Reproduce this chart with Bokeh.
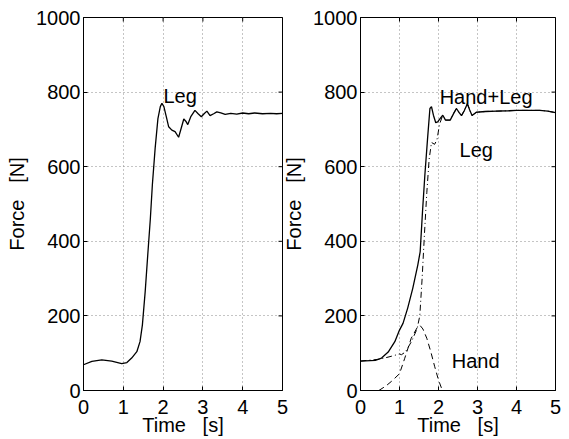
import math
from bokeh.plotting import figure
from bokeh.layouts import row
from bokeh.models import Range1d, FixedTicker, Label
from bokeh.embed import file_html
from bokeh.resources import INLINE

# ---- data ----
x_ticks = [0, 1, 2, 3, 4, 5]
y_ticks = [0, 200, 400, 600, 800, 1000]

# Left panel: Leg only
t_leg = [0.0, 0.21, 0.46, 0.71, 0.96, 1.09, 1.21, 1.34, 1.42, 1.48, 1.55, 1.62, 1.68, 1.73,
         1.80, 1.87, 1.93, 1.97, 2.02, 2.08, 2.14, 2.22, 2.30, 2.39, 2.46, 2.52, 2.57, 2.62,
         2.70, 2.80, 2.88, 2.96, 3.03, 3.10, 3.18, 3.27, 3.35, 3.45, 3.56, 3.70, 3.85, 4.00,
         4.15, 4.30, 4.50, 4.70, 4.85, 5.0]
f_leg = [69, 78, 82, 79, 72, 75, 87, 104, 131, 176, 265, 372, 461, 551,
         649, 729, 761, 770, 761, 734, 707, 698, 694, 679, 705, 728, 722, 713,
         735, 751, 742, 734, 742, 749, 737, 742, 747, 744, 740, 743, 741, 744,
         742, 744, 742, 743, 742, 743]

# Right panel: Hand+Leg (total)
t_tot = [0.0, 0.38, 0.54, 0.71, 0.88, 1.0, 1.09, 1.21, 1.34, 1.47, 1.53, 1.59, 1.65, 1.72,
         1.78, 1.82, 1.87, 1.93, 1.98, 2.04, 2.11, 2.18, 2.30, 2.40, 2.46, 2.53, 2.59, 2.66,
         2.74, 2.80, 2.86, 2.97, 3.2, 3.5, 3.8, 4.0, 4.32, 4.6, 4.8, 5.0]
f_tot = [79, 81, 87, 103, 131, 162, 180, 221, 274, 337, 372, 480, 577, 676,
         756, 761, 738, 718, 720, 729, 738, 725, 725, 745, 756, 745, 737, 750,
         769, 752, 737, 746, 748, 749, 750, 751, 751, 751, 749, 745]

# Right panel: Hand
t_hand = [0.47, 0.65, 0.8, 1.0, 1.13, 1.3, 1.45, 1.53, 1.6, 1.7, 1.8, 1.9, 2.0, 2.1, 3.0, 4.0, 5.0]
f_hand = [0, 12, 25, 45, 85, 140, 168, 174, 165, 140, 105, 65, 28, 0, 0, 0, 0]

# Right panel: Leg
t_legr = [0.0, 0.5, 0.8, 1.0, 1.05, 1.15, 1.3, 1.45, 1.52, 1.58, 1.64, 1.70, 1.76, 1.82,
          1.90, 1.96, 2.03, 2.11, 2.18, 2.30, 2.40, 2.46, 2.53, 2.59, 2.66, 2.74, 2.80,
          2.86, 2.97, 3.2, 3.5, 3.8, 4.0, 4.32, 4.6, 4.8, 5.0]
f_legr = [79, 84, 92, 98, 96, 103, 130, 165, 200, 300, 420, 530, 620, 665,
          660, 672, 715, 738, 725, 725, 745, 756, 745, 737, 750, 769, 752,
          737, 746, 748, 749, 750, 751, 751, 751, 749, 745]

FONT = "Liberation Sans"
FS = "20px"
NB = "\u00a0"


def make_fig(left_border, right_border, ylab_standoff):
    p = figure(width=left_border + 199 + right_border, height=17 + 373 + 49,
               x_range=Range1d(0, 5), y_range=Range1d(0, 1000),
               output_backend="svg", toolbar_location=None,
               min_border_left=left_border, min_border_right=right_border,
               min_border_top=17, min_border_bottom=49)
    p.outline_line_color = "black"
    p.outline_line_alpha = 1
    p.outline_line_width = 1
    p.background_fill_color = "white"
    p.border_fill_alpha = 0
    for ax in p.xaxis + p.yaxis:
        ax.major_label_text_font = FONT
        ax.major_label_text_font_size = FS
        ax.major_label_text_color = "black"
        ax.axis_label_text_font = FONT
        ax.axis_label_text_font_size = FS
        ax.axis_label_text_font_style = "normal"
        ax.axis_label_text_color = "black"
        ax.major_tick_in = 4
        ax.major_tick_out = 0
        ax.minor_tick_line_color = None
        ax.axis_line_color = "black"
        ax.major_tick_line_color = "black"
    p.xaxis.ticker = FixedTicker(ticks=x_ticks)
    p.yaxis.ticker = FixedTicker(ticks=y_ticks)
    p.xaxis.axis_label = "Time" + NB * 3 + "[s]"
    p.yaxis.axis_label = "Force" + NB * 3 + "[N]"
    p.xaxis.major_label_standoff = 9
    p.xaxis.axis_label_standoff = -3
    p.yaxis.major_label_standoff = 3
    p.yaxis.axis_label_standoff = ylab_standoff
    for g in p.xgrid + p.ygrid:
        g.grid_line_color = "#8a8a8a"
        g.grid_line_dash = "1 3"
        g.grid_line_width = 1
    p.xgrid.ticker = FixedTicker(ticks=x_ticks)
    p.ygrid.ticker = FixedTicker(ticks=y_ticks)
    # mirrored inward ticks on the top and right edges (outer half is clipped)
    p.scatter(x=x_ticks, y=[y_ticks[-1]] * len(x_ticks), marker="dash", size=8,
              angle=math.pi / 2, line_color="black", line_width=1)
    p.scatter(x=[x_ticks[-1]] * len(y_ticks), y=y_ticks, marker="dash", size=8,
              line_color="black", line_width=1)
    return p


def add_label(p, x, y, text):
    p.add_layout(Label(x=x, y=y, text=text, text_font=FONT, text_font_size=FS,
                       text_color="black", text_baseline="alphabetic", text_align="left"))


p1 = make_fig(83, 6, 5)
p1.line(t_leg, f_leg, line_color="black", line_width=1.3)
add_label(p1, 2.01, 790, "Leg")

p2 = make_fig(76, 8, 5)
p2.margin = (0, 0, 0, -8)
p2.line(t_hand, f_hand, line_color="black", line_width=1, line_dash="6 4")
p2.line(t_legr, f_legr, line_color="black", line_width=1, line_dash="6 3 1 3")
p2.line(t_tot, f_tot, line_color="black", line_width=1.3)
add_label(p2, 2.03, 786, "Hand+Leg")
add_label(p2, 2.54, 646, "Leg")
add_label(p2, 2.34, 78, "Hand")

layout = row(p1, p2)
open("out.html", "w").write(file_html(layout, INLINE))
